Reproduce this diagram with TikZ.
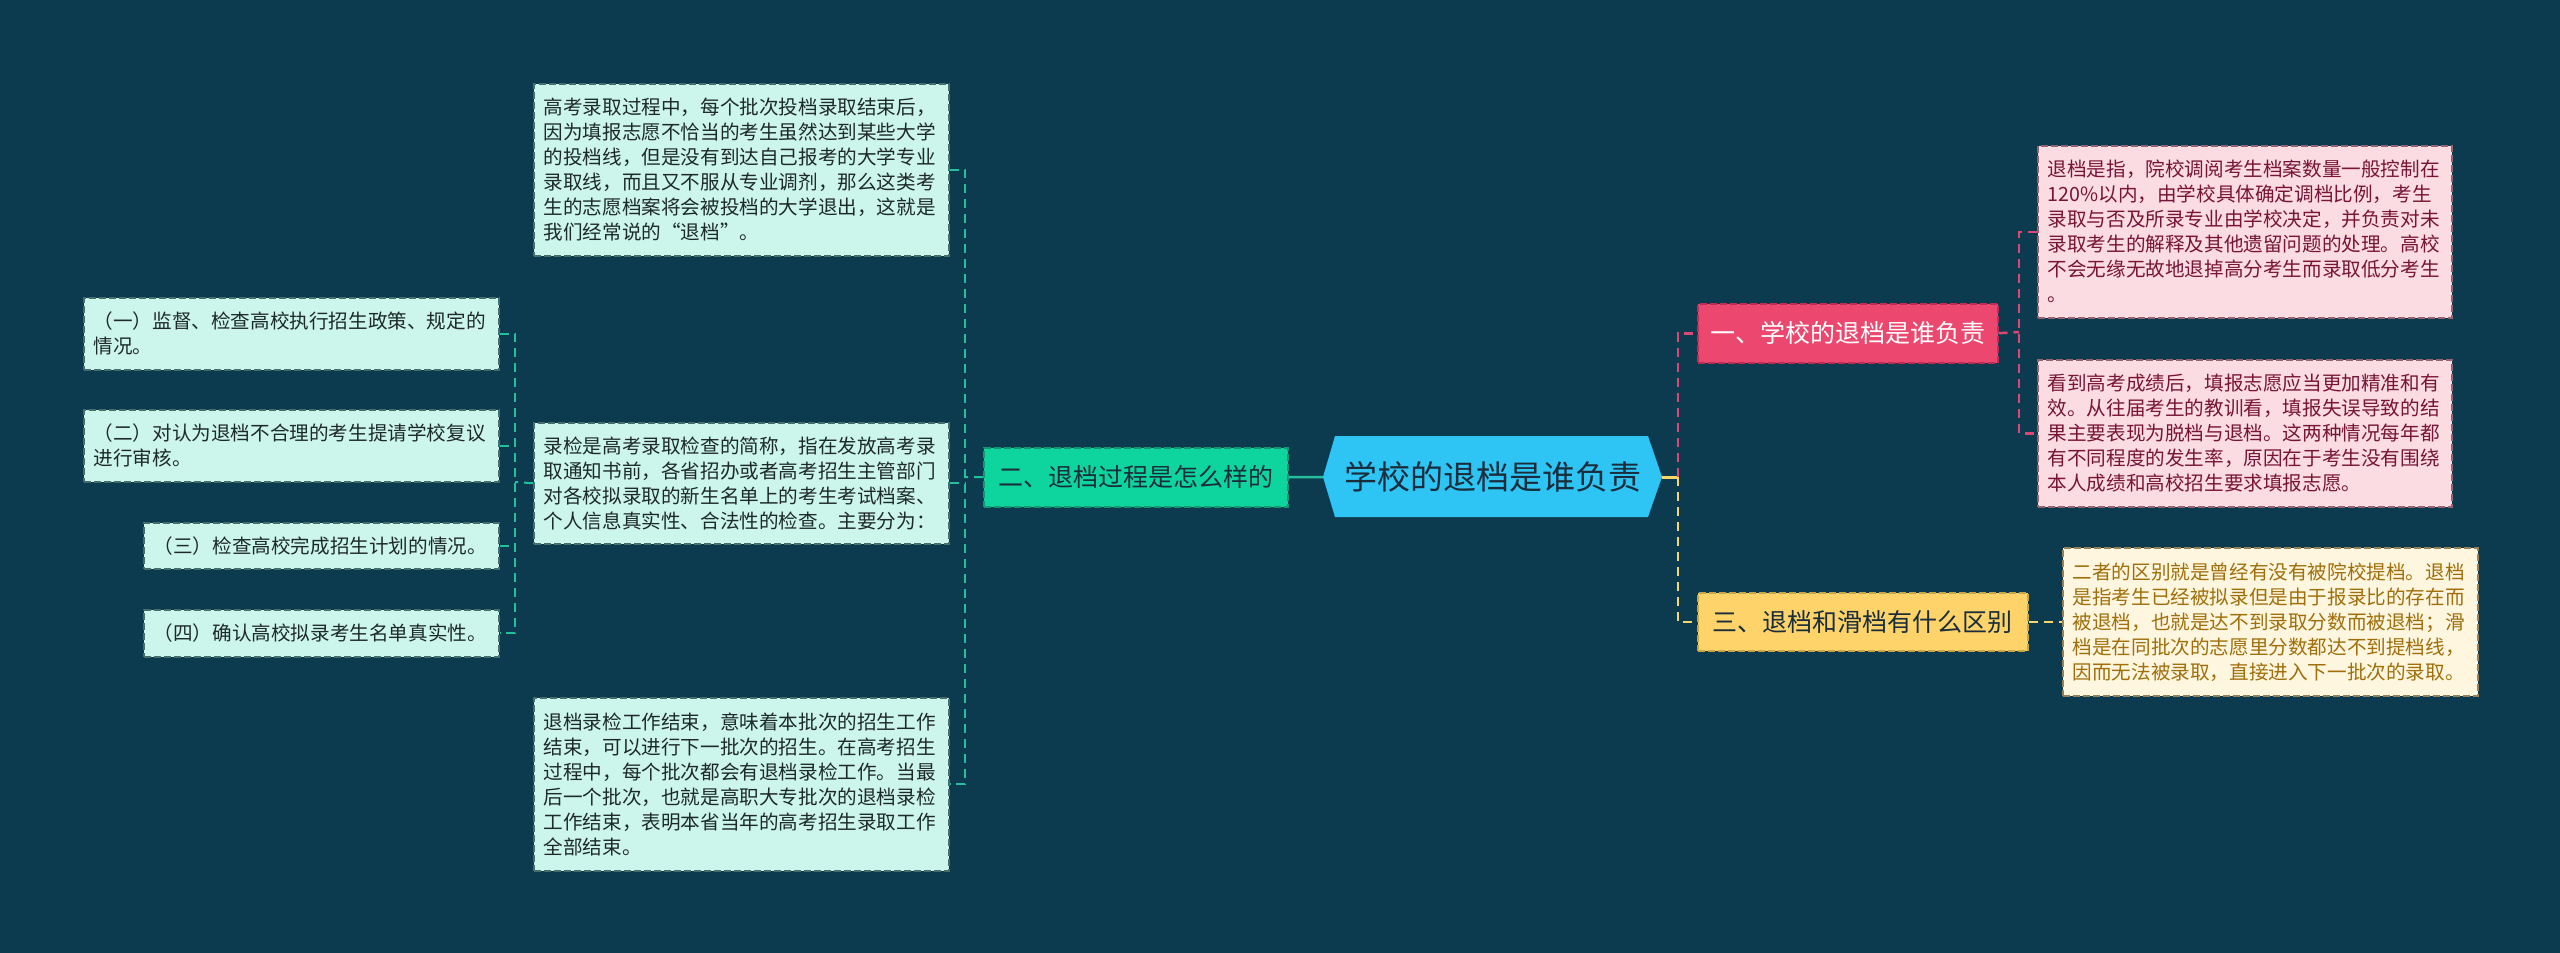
\documentclass[tikz,border=0pt]{standalone}
\usepackage{fontspec}
\setmainfont{Noto Sans CJK SC}
\definecolor{bg}{RGB}{12,58,78}
\definecolor{tealline}{RGB}{36,192,158}
\definecolor{greennode}{RGB}{14,212,158}
\definecolor{greenborder}{RGB}{20,150,115}
\definecolor{mintfill}{RGB}{204,245,236}
\definecolor{mintborder}{RGB}{70,110,108}
\definecolor{minttext}{RGB}{30,42,42}
\definecolor{sky}{RGB}{46,196,244}
\definecolor{roottext}{RGB}{25,45,60}
\definecolor{pinknode}{RGB}{236,72,111}
\definecolor{pinkborder}{RGB}{190,45,85}
\definecolor{pinkline}{RGB}{222,70,118}
\definecolor{pinkfill}{RGB}{251,220,226}
\definecolor{pinktext}{RGB}{120,20,55}
\definecolor{pinkboxborder}{RGB}{150,100,112}
\definecolor{yellownode}{RGB}{253,211,106}
\definecolor{yellowborder}{RGB}{200,165,70}
\definecolor{yellowline}{RGB}{248,214,104}
\definecolor{yellowfill}{RGB}{254,246,222}
\definecolor{yellowtext}{RGB}{160,110,10}
\definecolor{yellowboxborder}{RGB}{150,130,90}
\tikzset{
  leaf/.style={anchor=north west, align=left, inner xsep=10pt, inner ysep=8pt,
    line width=1.5pt, dash pattern=on 7pt off 3pt,
    font=\fontsize{19.6}{25}\selectfont},
  mintbox/.style={leaf, draw=mintborder, fill=mintfill, text=minttext},
  pinkbox/.style={leaf, draw=pinkboxborder, fill=pinkfill, text=pinktext},
  yellowbox/.style={leaf, draw=yellowboxborder, fill=yellowfill, text=yellowtext},
  midnode/.style={anchor=north west, align=center, inner sep=0pt,
    line width=1.5pt, dash pattern=on 7pt off 3pt,
    font=\fontsize{25}{30}\selectfont},
  tealconn/.style={draw=tealline, line width=2pt, dash pattern=on 9pt off 6pt},
  pinkconn/.style={draw=pinkline, line width=2.5pt, dash pattern=on 9pt off 6pt},
  yellowconn/.style={draw=yellowline, line width=2.5pt, dash pattern=on 9pt off 6pt},
}
\begin{document}
\begin{tikzpicture}[x=1pt,y=-1pt]
\fill[bg] (0,0) rectangle (2560,953);
\useasboundingbox (0,0) rectangle (2560,953);

% root hexagon
\fill[sky] (1323,477) -- (1335,436) -- (1648,436) -- (1662,477) -- (1648,517) -- (1335,517) -- cycle;
\node[minimum width=339pt, minimum height=82pt, inner sep=0pt, text=roottext,
  font=\fontsize{33}{38}\selectfont] (root) at (1492.5,477) {学校的退档是谁负责};

% level 1 nodes
\node[midnode, draw=greenborder, fill=greennode, text=roottext,
  minimum width=304pt, minimum height=59pt] (green) at (983,447) {二、退档过程是怎么样的};
\node[midnode, draw=pinkborder, fill=pinknode, text=white,
  minimum width=300pt, minimum height=59pt] (pink) at (1697,303) {一、学校的退档是谁负责};
\node[midnode, draw=yellowborder, fill=yellownode, text=roottext,
  minimum width=330pt, minimum height=58pt] (yellow) at (1697,592) {三、退档和滑档有什么区别};

% left middle column
\node[mintbox, text width=395pt, minimum width=415pt, minimum height=172pt] (A) at (533,83)
{高考录取过程中，每个批次投档录取结束后，\\因为填报志愿不恰当的考生虽然达到某些大学\\的投档线，但是没有到达自己报考的大学专业\\录取线，而且又不服从专业调剂，那么这类考\\生的志愿档案将会被投档的大学退出，这就是\\我们经常说的“退档”。};
\node[mintbox, text width=395pt, minimum width=415pt, minimum height=121pt] (B) at (533,422)
{录检是高考录取检查的简称，指在发放高考录\\取通知书前，各省招办或者高考招生主管部门\\对各校拟录取的新生名单上的考生考试档案、\\个人信息真实性、合法性的检查。主要分为：};
\node[mintbox, text width=395pt, minimum width=415pt, minimum height=173pt] (C) at (533,697)
{退档录检工作结束，意味着本批次的招生工作\\结束，可以进行下一批次的招生。在高考招生\\过程中，每个批次都会有退档录检工作。当最\\后一个批次，也就是高职大专批次的退档录检\\工作结束，表明本省当年的高考招生录取工作\\全部结束。};

% far left column
\node[mintbox, text width=395pt, minimum width=415pt, minimum height=72pt] (L1) at (83,297)
{（一）监督、检查高校执行招生政策、规定的\\情况。};
\node[mintbox, text width=395pt, minimum width=415pt, minimum height=72pt] (L2) at (83,409)
{（二）对认为退档不合理的考生提请学校复议\\进行审核。};
\node[mintbox, text width=335pt, minimum width=355pt, minimum height=46pt] (L3) at (143,522)
{（三）检查高校完成招生计划的情况。};
\node[mintbox, text width=335pt, minimum width=355pt, minimum height=47pt] (L4) at (143,609)
{（四）确认高校拟录考生名单真实性。};

% right column
\node[pinkbox, text width=394pt, minimum width=414pt, minimum height=172pt] (P1) at (2037,145)
{退档是指，院校调阅考生档案数量一般控制在\\120\%以内，由学校具体确定调档比例，考生\\录取与否及所录专业由学校决定，并负责对未\\录取考生的解释及其他遗留问题的处理。高校\\不会无缘无故地退掉高分考生而录取低分考生\\。};
\node[pinkbox, text width=394pt, minimum width=414pt, minimum height=147pt] (P2) at (2037,359)
{看到高考成绩后，填报志愿应当更加精准和有\\效。从往届考生的教训看，填报失误导致的结\\果主要表现为脱档与退档。这两种情况每年都\\有不同程度的发生率，原因在于考生没有围绕\\本人成绩和高校招生要求填报志愿。};
\node[yellowbox, text width=395pt, minimum width=415pt, minimum height=148pt] (Y1) at (2062,547)
{二者的区别就是曾经有没有被院校提档。退档\\是指考生已经被拟录但是由于报录比的存在而\\被退档，也就是达不到录取分数而被退档；滑\\档是在同批次的志愿里分数都达不到提档线，\\因而无法被录取，直接进入下一批次的录取。};

% bus coordinates
\coordinate (lbus) at (965,477);
\coordinate (llbus) at (515,482);
\coordinate (rbus) at (1678,477);
\coordinate (pbus) at (2019,332);

% connectors: root to green
\draw[tealline, line width=2.5pt] (root.west) -- (green.east);
\draw[tealconn] (green.west) -- (lbus);
\draw[tealconn] (A.east) -- (A.east -| lbus) -- (C.east -| lbus) -- (C.east);
\draw[tealconn] (B.east) -- (B.east -| lbus);
% B to far left
\draw[tealconn] (B.west) -- (llbus);
\draw[tealconn] (L1.east) -- (L1.east -| llbus) -- (L4.east -| llbus) -- (L4.east);
\draw[tealconn] (L2.east) -- (L2.east -| llbus);
\draw[tealconn] (L3.east) -- (L3.east -| llbus);

% right side
\draw[yellowline, line width=3pt] (root.east) -- (rbus);
\draw[pinkconn] (rbus) -- (rbus |- pink.west) -- (pink.west);
\draw[yellowconn] (rbus) -- (rbus |- yellow.west) -- (yellow.west);
\draw[pinkconn] (pink.east) -- (pbus);
\draw[pinkconn] (P1.west) -- (P1.west -| pbus) -- (P2.west -| pbus) -- (P2.west);
\draw[yellowconn] (yellow.east) -- (Y1.west);
\end{tikzpicture}
\end{document}
